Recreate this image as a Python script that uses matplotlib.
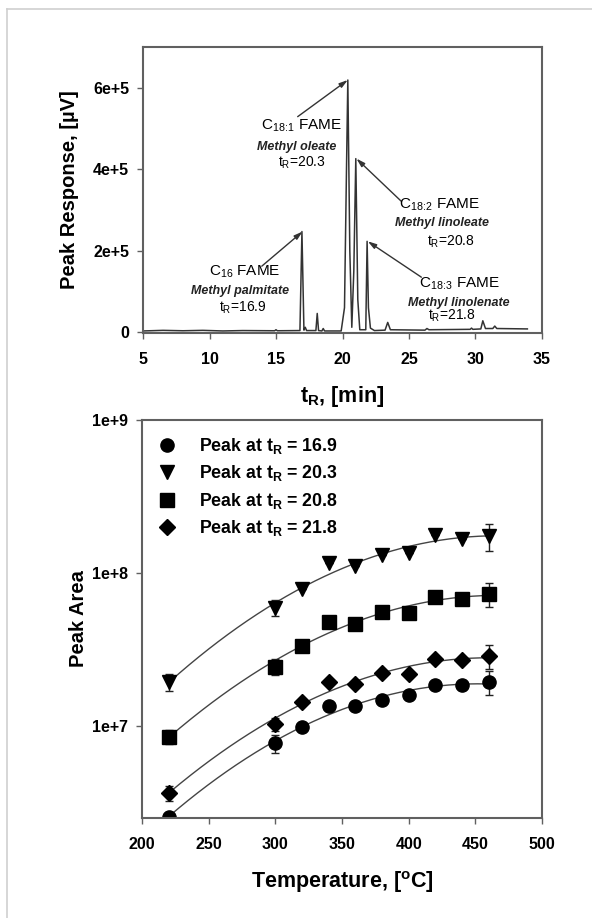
import numpy as np
import matplotlib
matplotlib.use("Agg")
import matplotlib.pyplot as plt
from matplotlib.lines import Line2D

plt.rcParams["font.family"] = ["Liberation Sans", "DejaVu Sans"]
plt.rcParams["mathtext.fontset"] = "custom"
plt.rcParams["mathtext.rm"] = "Liberation Sans"
plt.rcParams["mathtext.it"] = "Liberation Sans:italic"
plt.rcParams["mathtext.bf"] = "Liberation Sans:bold"

# chromatogram trace (time in min, response in uV)
trace_t = [5.0, 6.5, 8.0, 9.5, 11.0, 12.5, 14.9, 15.0, 15.1, 16.8, 16.95, 17.1, 17.2, 17.3,
           18.0, 18.1, 18.2, 18.45, 18.55, 18.65, 19.9, 20.15, 20.3, 20.4,
           20.55, 20.7, 20.85, 21.0, 21.15, 21.3, 21.75, 21.85, 21.95, 22.1,
           22.4, 23.2, 23.4, 23.6, 26.2, 26.35, 26.5, 29.6, 29.7, 29.8, 30.4,
           30.55, 30.75, 31.3, 31.45, 31.6, 33.9]
trace_r = [3000, 4500, 3500, 4500, 3000, 4000, 3500, 6000, 3500, 4000, 247000, 5000, 12000, 4000,
           4000, 46000, 4000, 3000, 9000, 3000, 3000, 60000, 400000, 619000,
           200000, 12000, 150000, 426000, 80000, 6000, 6000, 223000, 60000, 10000,
           4000, 5000, 24000, 6000, 5000, 9000, 6000, 7000, 10000, 7000, 8000,
           28000, 9000, 9000, 15000, 9000, 8000]

# peak area vs temperature
temps = [220, 300, 320, 340, 360, 380, 400, 420, 440, 460]
area_169 = [2.54e6, 7.7e6, 9.9e6, 1.35e7, 1.35e7, 1.48e7, 1.6e7, 1.85e7, 1.85e7, 1.94e7]
area_203 = [1.94e7, 5.9e7, 7.9e7, 1.16e8, 1.11e8, 1.31e8, 1.35e8, 1.77e8, 1.67e8, 1.75e8]
area_208 = [8.5e6, 2.43e7, 3.33e7, 4.79e7, 4.64e7, 5.56e7, 5.45e7, 6.97e7, 6.74e7, 7.3e7]
area_218 = [3.65e6, 1.03e7, 1.44e7, 1.94e7, 1.88e7, 2.22e7, 2.2e7, 2.74e7, 2.7e7, 2.87e7]
# relative error bar half-widths
err_169 = [0.0, 0.13, 0, 0, 0, 0, 0, 0, 0, 0.18]
err_203 = [0.13, 0.12, 0, 0, 0, 0, 0, 0, 0, 0.2]
err_208 = [0.1, 0.12, 0, 0, 0, 0, 0, 0, 0, 0.18]
err_218 = [0.11, 0.1, 0, 0, 0, 0, 0, 0, 0, 0.18]
labels = ["16.9", "20.3", "20.8", "21.8"]
markers = ["o", "v", "s", "D"]

fig = plt.figure(figsize=(5.92, 9.18), dpi=100)

# light frame of the original figure
fig.add_artist(Line2D([7 / 592, 1.0], [1 - 9 / 918, 1 - 9 / 918], color="#cfcfcf", lw=1.2))
fig.add_artist(Line2D([7 / 592, 7 / 592], [0.0, 1 - 9 / 918], color="#cfcfcf", lw=1.2))

spine_col = "#606060"


def style_axes(ax):
    for s in ax.spines.values():
        s.set_color(spine_col)
        s.set_linewidth(1.5)
    ax.tick_params(direction="out", length=4, width=1, color=spine_col, labelsize=11.5)
    ax.tick_params(axis="x", pad=10)
    ax.tick_params(axis="y", pad=6)
    for lab in ax.get_xticklabels() + ax.get_yticklabels():
        lab.set_fontweight("bold")


# --- top: chromatogram ---
ax1 = fig.add_axes([143 / 592, 1 - 333 / 918, 399 / 592, 286 / 918])
ax1.plot(trace_t, trace_r, color="#333333", lw=1.1)
ax1.set_xlim(5, 35)
ax1.set_ylim(-2000, 7e5)
ax1.set_xticks(range(5, 36, 5))
ax1.set_yticks([0, 2e5, 4e5, 6e5])
ax1.set_yticklabels(["0", "2e+5", "4e+5", "6e+5"])
style_axes(ax1)
ax1.set_xlabel(r"t$_\mathbf{R}$, [min]", fontsize=15.5, fontweight="bold", labelpad=12)
ax1.set_ylabel("Peak Response, [\u00b5V]", fontsize=14.5, fontweight="bold", labelpad=10)

arrow = dict(arrowstyle="-|>,head_length=0.5,head_width=0.15", color="#333333", lw=1,
             shrinkA=0, shrinkB=0)
ax1.annotate("", xy=(17.0, 2.47e5), xytext=(13.93, 1.62e5), arrowprops=arrow)
ax1.annotate("", xy=(20.4, 6.19e5), xytext=(16.63, 5.29e5), arrowprops=arrow)
ax1.annotate("", xy=(21.05, 4.26e5), xytext=(24.43, 3.21e5), arrowprops=arrow)
ax1.annotate("", xy=(21.9, 2.23e5), xytext=(25.93, 1.35e5), arrowprops=arrow)

ann = [
    ("16", "palmitate", "16.9", (12.65, 1.47e5), (12.28, 1.0e5), (12.5, 0.61e5)),
    (r"18\!:\!1", "oleate", "20.3", (16.93, 5.07e5), (16.55, 4.55e5), (16.93, 4.16e5)),
    (r"18\!:\!2", "linoleate", "20.8", (27.28, 3.13e5), (27.5, 2.67e5), (28.18, 2.23e5)),
    (r"18\!:\!3", "linolenate", "21.8", (28.78, 1.18e5), (28.78, 0.71e5), (28.25, 0.39e5)),
]
for sub, name, tr, p1, p2, p3 in ann:
    ax1.text(*p1, r"C$_{\mathrm{%s}}$ FAME" % sub, fontsize=11, ha="center", va="center")
    ax1.text(*p2, "Methyl " + name, fontsize=9, style="italic", fontweight="bold",
             ha="center", va="center", color="#222222")
    ax1.text(*p3, r"t$_\mathrm{R}$=" + tr, fontsize=10, ha="center", va="center")

# --- bottom: peak area vs temperature ---
ax2 = fig.add_axes([142 / 592, 1 - 818 / 918, 400 / 592, 398 / 918])
t_fit = np.linspace(min(temps), max(temps), 200)
series = [area_169, area_203, area_208, area_218]
errs = [err_169, err_203, err_208, err_218]
for vals, err, mk, lab in zip(series, errs, markers, labels):
    vals = np.array(vals)
    coef = np.polyfit(temps, np.log10(vals), 2)
    ax2.plot(t_fit, 10 ** np.polyval(coef, t_fit), color="#444444", lw=1)
    ax2.errorbar(temps, vals, yerr=vals * np.array(err), fmt="none", ecolor="#222222",
                 elinewidth=1, capsize=3)
    ax2.plot(temps, vals, linestyle="none", marker=mk, color="black",
             markersize=8 if mk == "D" else 9.5, label=r"Peak at t$_\mathbf{R}$ = " + lab)

ax2.set_yscale("log")
ax2.set_xlim(200, 500)
ax2.set_ylim(2.5e6, 1e9)
ax2.set_xticks(range(200, 501, 50))
ax2.set_yticks([1e7, 1e8, 1e9])
ax2.set_yticklabels(["1e+7", "1e+8", "1e+9"])
ax2.yaxis.set_minor_locator(matplotlib.ticker.NullLocator())
style_axes(ax2)
ax2.set_xlabel(r"Temperature, [$^\mathbf{o}$C]", fontsize=15.5, fontweight="bold", labelpad=12)
ax2.set_ylabel("Peak Area", fontsize=14.5, fontweight="bold", labelpad=3)
leg = ax2.legend(loc="upper left", frameon=False, prop=dict(weight="bold", size=12.8),
                 handletextpad=1.3, labelspacing=0.42, borderaxespad=0.6, handlelength=1.0,
                 borderpad=0.3)

fig.savefig("out.png", dpi=100)
